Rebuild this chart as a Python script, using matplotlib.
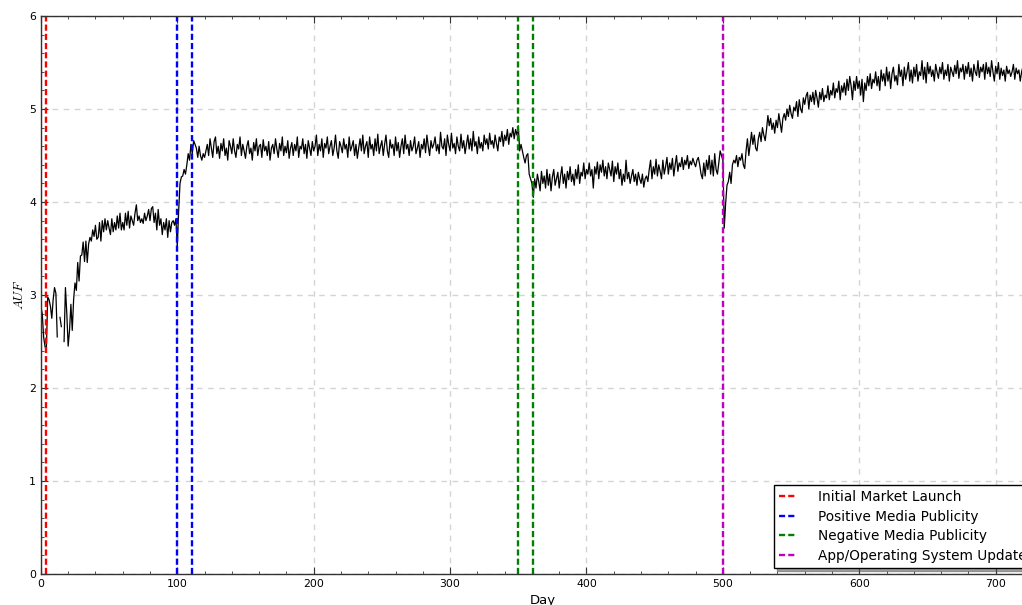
import numpy as np
import matplotlib
matplotlib.use("Agg")
import matplotlib.pyplot as plt
from matplotlib.ticker import MultipleLocator

plt.rcParams["mathtext.fontset"] = "cm"

nan = np.nan

# AUF values per day, in segments (start day, values)
seg_launch_start = 0
seg_launch = [
    2.88, 2.80, 2.55, 2.45, 2.40, 2.98, 2.95, 2.88, 2.75, 2.95,
    3.08, 3.02, 2.55, nan, 2.76, 2.66, nan, 2.50, 3.08, 2.80,
    2.45, 2.62, 2.90, 2.62, 2.95, 3.13, 3.05, 3.35, 3.15, 3.42,
    3.43, 3.57, 3.36, 3.58, 3.35, 3.55, 3.62, 3.58, 3.70, 3.63,
    3.75, 3.60, 3.62, 3.78, 3.58, 3.80, 3.68, 3.82, 3.70, 3.80,
    3.72, 3.65, 3.82, 3.68, 3.78, 3.70, 3.85, 3.72, 3.88, 3.70,
    3.78, 3.70, 3.88, 3.75, 3.90, 3.72, 3.85, 3.80, 3.75, 3.88,
    3.97, 3.80, 3.85, 3.78, 3.82, 3.77, 3.88, 3.80, 3.85, 3.92,
    3.80, 3.93, 3.95, 3.78, 3.88, 3.70, 3.92, 3.75, 3.82, 3.65,
    3.78, 3.70, 3.82, 3.62, 3.80, 3.68, 3.78, 3.80, 3.75, 3.82,
]

seg_positive_start = 100
seg_positive = [
    3.52, 3.90, 4.20, 4.27, 4.28, 4.35, 4.30, 4.40, 4.52, 4.45,
    4.62, 4.52, 4.66, 4.62, 4.58, 4.48, 4.60, 4.50, 4.45, 4.52,
    4.48,
    4.55, 4.62, 4.50, 4.68, 4.58, 4.48, 4.65, 4.70, 4.52, 4.60,
    4.47, 4.63, 4.55, 4.68, 4.50, 4.58, 4.45, 4.66, 4.60, 4.52,
    4.68, 4.55, 4.48, 4.62, 4.57, 4.70, 4.50, 4.62, 4.55, 4.47,
    4.60, 4.66, 4.52, 4.58, 4.45, 4.64, 4.55, 4.68, 4.50, 4.60,
    4.62, 4.48, 4.67, 4.55, 4.60, 4.50, 4.65, 4.45, 4.58, 4.62,
    4.52, 4.68, 4.57, 4.48, 4.63, 4.55, 4.70, 4.50, 4.60, 4.53,
    4.66, 4.47, 4.58, 4.64, 4.50, 4.62, 4.55, 4.70, 4.48, 4.60,
    4.57, 4.68, 4.52, 4.62, 4.47, 4.66, 4.58, 4.50, 4.65, 4.55,
    4.60, 4.72, 4.50, 4.62, 4.55, 4.68, 4.48, 4.63, 4.58, 4.70,
    4.52, 4.60, 4.66, 4.50, 4.58, 4.72, 4.55, 4.47, 4.65, 4.60,
    4.53, 4.68, 4.57, 4.62, 4.48, 4.70, 4.55, 4.60, 4.66, 4.50,
    4.62, 4.47, 4.58, 4.68, 4.55, 4.72, 4.52, 4.60, 4.65, 4.48,
    4.70, 4.57, 4.62, 4.50, 4.68, 4.55, 4.73, 4.52, 4.60, 4.66,
    4.50, 4.62, 4.72, 4.55, 4.48, 4.67, 4.58, 4.62, 4.50, 4.70,
    4.55, 4.64, 4.48, 4.60, 4.68, 4.52, 4.72, 4.57, 4.62, 4.50,
    4.66, 4.55, 4.60, 4.70, 4.52, 4.58, 4.65, 4.48, 4.62, 4.57,
    4.68, 4.53, 4.72, 4.60, 4.50, 4.66, 4.58, 4.62, 4.70, 4.55,
    4.62, 4.52, 4.75, 4.60, 4.57, 4.68, 4.50, 4.72, 4.62, 4.55,
    4.74, 4.58, 4.63, 4.52, 4.70, 4.60, 4.55, 4.73, 4.58, 4.66,
    4.52, 4.62, 4.72, 4.57, 4.68, 4.55, 4.76, 4.60, 4.65, 4.52,
    4.70, 4.58, 4.64, 4.55, 4.72, 4.62, 4.68, 4.57, 4.74, 4.62,
    4.66, 4.58, 4.72, 4.63, 4.55, 4.70, 4.65, 4.76, 4.60, 4.72,
    4.66, 4.78, 4.62, 4.74, 4.70, 4.80, 4.68, 4.78, 4.72,
]

seg_negative_start = 350
seg_negative = [
    4.82, 4.55, 4.62, 4.55, 4.48, 4.42, 4.50, 4.52, 4.30, 4.25,
    4.20, 4.05,
    4.25, 4.15, 4.30, 4.22, 4.12, 4.33, 4.20, 4.28, 4.15, 4.35,
    4.18, 4.30, 4.12, 4.27, 4.35, 4.18, 4.25, 4.32, 4.15, 4.28,
    4.38, 4.20, 4.30, 4.15, 4.33, 4.24, 4.38, 4.22, 4.30, 4.18,
    4.35, 4.25, 4.40, 4.20, 4.32, 4.28, 4.42, 4.25, 4.35, 4.30,
    4.42, 4.28, 4.35, 4.15, 4.38, 4.30, 4.43, 4.25, 4.40, 4.32,
    4.45, 4.28, 4.38, 4.25, 4.42, 4.35, 4.28, 4.44, 4.22, 4.38,
    4.30, 4.42, 4.25, 4.35, 4.18, 4.30, 4.22, 4.45, 4.25, 4.32,
    4.20, 4.28, 4.35, 4.22, 4.30, 4.18, 4.32, 4.25, 4.20, 4.30,
    4.16, 4.25, 4.28, 4.22, 4.35, 4.45, 4.25, 4.38, 4.30, 4.46,
    4.28, 4.40, 4.33, 4.25, 4.45, 4.30, 4.38, 4.48, 4.30, 4.42,
    4.35, 4.47, 4.28, 4.40, 4.50, 4.33, 4.42, 4.38, 4.48, 4.35,
    4.45, 4.40, 4.50, 4.36, 4.44, 4.40, 4.47, 4.42, 4.38, 4.45,
    4.48, 4.40, 4.30, 4.25, 4.42, 4.28, 4.45, 4.35, 4.50, 4.30,
    4.45, 4.28, 4.52, 4.35, 4.30, 4.42, 4.55, 4.50,
]

seg_update_start = 500
seg_update = [
    4.45, 3.72, 3.98, 4.18, 4.22, 4.32, 4.20, 4.40, 4.45, 4.42,
    4.50, 4.38, 4.48, 4.45, 4.52, 4.40, 4.36, 4.55, 4.68, 4.50,
    4.62, 4.75, 4.62, 4.72, 4.58, 4.55, 4.68, 4.75, 4.65, 4.80,
    4.72, 4.66, 4.78, 4.93, 4.82, 4.90, 4.78, 4.85, 4.74, 4.88,
    4.80, 4.95, 4.85, 4.75, 4.90, 4.95, 4.88, 5.00, 4.92, 5.04,
    4.95, 4.90, 5.02, 4.98, 5.08, 4.92, 5.10, 5.00, 4.96, 5.12,
    5.05, 5.14, 5.18, 5.00, 5.15, 5.08, 5.18, 5.05, 5.20, 5.12,
    5.02, 5.18, 5.10, 5.22, 5.08, 5.15, 5.12, 5.25, 5.10, 5.20,
    5.15, 5.28, 5.12, 5.22, 5.18, 5.30, 5.10, 5.25, 5.18, 5.28,
    5.15, 5.32, 5.20, 5.35, 5.25, 5.10, 5.30, 5.20, 5.35, 5.22,
    5.30,
    5.15, 5.32, 5.08, 5.28, 5.20, 5.35, 5.25, 5.38, 5.22, 5.32,
    5.28, 5.40, 5.25, 5.35, 5.20, 5.42, 5.30, 5.38, 5.25, 5.45,
    5.30, 5.40, 5.22, 5.38, 5.45, 5.30, 5.36, 5.26, 5.48, 5.35,
    5.42, 5.25, 5.45, 5.32, 5.40, 5.50, 5.30, 5.42, 5.28, 5.45,
    5.35, 5.48, 5.30, 5.40, 5.36, 5.52, 5.32, 5.45, 5.28, 5.50,
    5.38, 5.46, 5.35, 5.42, 5.30, 5.48, 5.40, 5.33, 5.45, 5.38,
    5.50, 5.32, 5.42, 5.36, 5.48, 5.30, 5.45, 5.40, 5.35, 5.47,
    5.38, 5.52, 5.33, 5.44, 5.40, 5.48, 5.32, 5.46, 5.38, 5.50,
    5.35, 5.44, 5.30, 5.48, 5.40, 5.36, 5.52, 5.34, 5.45, 5.40,
    5.48, 5.32, 5.50, 5.38, 5.45, 5.35, 5.52, 5.40, 5.30, 5.46,
    5.38, 5.50, 5.32, 5.44, 5.36, 5.42, 5.30, 5.46, 5.38, 5.42,
    5.35, 5.40, 5.48, 5.32, 5.44, 5.38, 5.42, 5.30, 5.40, 5.46,
    5.48, 5.44, 5.50, 5.40, 5.46,
]

# event days
launch_days = [4]
positive_days = [100, 111]
negative_days = [350, 361]
update_days = [500]

segments = [
    (seg_launch_start, seg_launch),
    (seg_positive_start, seg_positive),
    (seg_negative_start, seg_negative),
    (seg_update_start, seg_update),
]
days = np.concatenate([np.arange(s, s + len(v)) for s, v in segments])
auf = np.concatenate([np.array(v, dtype=float) for s, v in segments])

events = [
    (launch_days, "red", "Initial Market Launch"),
    (positive_days, "blue", "Positive Media Publicity"),
    (negative_days, "green", "Negative Media Publicity"),
    (update_days, "m", "App/Operating System Update"),
]

fig = plt.figure(figsize=(10.22, 6.05), dpi=100)
ax = fig.add_axes([0.040, 0.0512, 0.9823, 0.9223])

ax.plot(days, auf, color="black", linewidth=0.9)

for ev_days, col, lab in events:
    for i, d in enumerate(ev_days):
        ax.axvline(d, color=col, linestyle="--", dashes=(2.6, 1.3), linewidth=1.7,
                   label=lab if i == 0 else None)

ax.set_xlim(0, 736)
ax.set_ylim(0, 6)
ax.xaxis.set_major_locator(MultipleLocator(100))
ax.xaxis.set_minor_locator(MultipleLocator(20))
ax.yaxis.set_major_locator(MultipleLocator(1))
ax.yaxis.set_minor_locator(MultipleLocator(0.2))
ax.tick_params(which="both", direction="in", top=True, right=True, labelsize=7.8,
               color="#333333")
ax.tick_params(which="major", length=5)
ax.tick_params(which="minor", length=2.5)
ax.grid(True, which="major", color="#d4d4d4", linestyle="--", dashes=(4, 4), linewidth=1)
ax.set_axisbelow(True)
for sp in ax.spines.values():
    sp.set_color("#333333")
    sp.set_linewidth(1.0)

ax.set_xlabel("Day", fontsize=9.5)
ax.set_ylabel("$AUF$", fontsize=9.5, labelpad=2)

leg = ax.legend(loc="lower left", bbox_to_anchor=(774 / 1022, 37 / 605),
                bbox_transform=fig.transFigure, borderaxespad=0,
                fontsize=9.8, shadow=True, fancybox=False,
                handlelength=1.3, handletextpad=1.5, labelspacing=0.4)
leg.get_frame().set_edgecolor("black")
leg.get_frame().set_linewidth(1.0)

fig.savefig("out.png", dpi=100)
